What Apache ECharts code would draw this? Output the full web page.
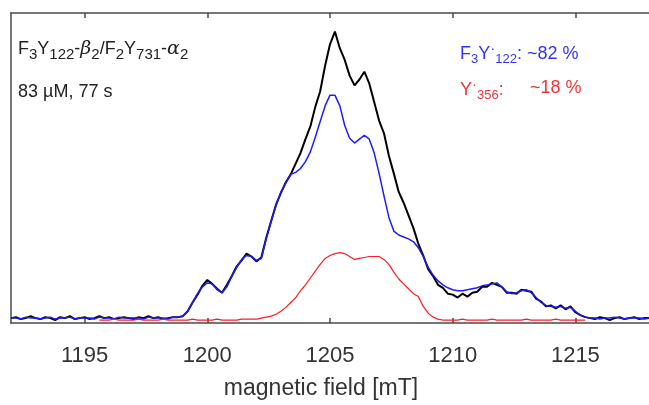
<!DOCTYPE html>
<html><head><meta charset="utf-8">
<script src="https://cdn.jsdelivr.net/npm/echarts@6/dist/echarts.min.js"></script>
<style>html,body{margin:0;padding:0;background:#fff}#c{width:649px;height:405px}</style>
</head><body><div id="c"></div>
<script>
// magnetic field positions (mT)
const field = [1192,1192.2,1192.4,1192.6,1192.8,1193,1193.2,1193.4,1193.6,1193.8,1194,1194.2,1194.4,1194.6,1194.8,1195,1195.2,1195.4,1195.6,1195.8,1196,1196.2,1196.4,1196.6,1196.8,1197,1197.2,1197.4,1197.6,1197.8,1198,1198.2,1198.4,1198.6,1198.8,1199,1199.2,1199.4,1199.6,1199.8,1200,1200.2,1200.4,1200.6,1200.8,1201,1201.2,1201.4,1201.6,1201.8,1202,1202.2,1202.4,1202.6,1202.8,1203,1203.2,1203.4,1203.6,1203.8,1204,1204.2,1204.4,1204.6,1204.8,1205,1205.2,1205.4,1205.6,1205.8,1206,1206.2,1206.4,1206.6,1206.8,1207,1207.2,1207.4,1207.6,1207.8,1208,1208.2,1208.4,1208.6,1208.8,1209,1209.2,1209.4,1209.6,1209.8,1210,1210.2,1210.4,1210.6,1210.8,1211,1211.2,1211.4,1211.6,1211.8,1212,1212.2,1212.4,1212.6,1212.8,1213,1213.2,1213.4,1213.6,1213.8,1214,1214.2,1214.4,1214.6,1214.8,1215,1215.2,1215.4,1215.6,1215.8,1216,1216.2,1216.4,1216.6,1216.8,1217,1217.2,1217.4,1217.6,1217.8,1218];
// measured spectrum (black)
const total = [5,6,4,5,7,5,4,6,5,3,6,5,7,4,5,6,4,5,7,5,6,4,5,6,5,4,6,5,7,5,6,4,5,6,
6,7,12,21,29,38,44,40,35,31,39,48,58,64,71,68,63,67,87,104,121,133,144,152,163,174,188,201,221,237,263,285,298,281,269,253,243,249,257,245,226,207,194,171,153,134,123,110,97,81,69,55,48,39,36,30,29,26,30,27,31,32,37,37,41,39,37,31,31,30,34,33,32,25,22,17,18,15,18,14,17,11,8,6,
5,4,6,5,3,5,6,4,5,6,4,5,5];
// F3Y122 radical component (blue)
const compF3Y = [5,5,4,6,5,5,4,5,6,4,5,5,6,4,5,5,5,4,6,5,5,4,6,5,5,5,5,4,6,5,5,5,4,6,
6,7,12,21,30,37,41,40,34,31,37,48,57,65,69,68,64,66,86,104,120,134,143,152,154,158,165,175,190,206,222,233,233,222,202,189,184,188,192,188,174,153,130,108,94,90,88,86,83,77,68,57,49,43,39,36,34,33,33,34,35,36,38,39,40,41,37,32,30,31,33,34,31,26,21,18,17,16,17,15,16,12,8,6,
5,5,4,5,5,6,5,4,5,5,5,4,5];
// Y356 radical component (red)
const compY356 = [null,null,null,null,null,null,null,null,null,null,null,null,null,null,null,null,null,null,
3,3,3,4,3,3,3,3,4,3,3,3,3,4,3,3,3,3,3,4,3,3,3,3,4,3,3,3,3,4,4,4,
4,5,6,7,9,12,16,21,26,33,39,46,53,60,66,69,71,72,71,68,65,66,67,68,68,68,65,60,52,45,40,35,30,27,17,10,6,4,
3,3,3,3,4,3,3,3,3,3,4,3,3,3,3,3,3,4,3,3,3,3,3,4,3,3,3,3,3,3,
null,null,null,null,null,null,null,null,null,null,null,null,null];
const tickValues = [1195, 1200, 1205, 1210, 1215];
const xTitle = 'magnetic field [mT]';

const chart = echarts.init(document.getElementById('c'));
const pair = ys => field.map((x, i) => [x, ys[i]]);
const axisColor = '#4a4a4a';
const FONT = 'Liberation Sans';
const sub = {fontSize: 13, fontFamily: FONT, padding: [11, 0, 0, 0]};
const subL = {fontSize: 15, fontFamily: FONT, padding: [11, 0, 0, 0]};
const sup = {fontSize: 15, fontFamily: FONT, padding: [0, 0, 11, 0]};
const main = {fontSize: 18, fontFamily: FONT};
chart.setOption({
  animation: false,
  grid: {left: 11, right: -10, top: 13, bottom: 75},
  xAxis: [{
    type: 'value', min: 1192, max: 1218, position: 'bottom',
    axisLine: {show: true, lineStyle: {color: axisColor, width: 1.5}},
    axisTick: {show: true, inside: true, length: 5, customValues: tickValues, lineStyle: {color: axisColor, width: 1.5}},
    axisLabel: {customValues: tickValues, fontSize: 22, color: '#333', margin: 22, fontFamily: FONT, formatter: v => String(v)},
    splitLine: {show: false},
    name: xTitle, nameLocation: 'middle', nameGap: 54,
    nameTextStyle: {fontSize: 23, color: '#333', fontFamily: FONT, padding: [0, 18, 0, 0]}
  }, {
    type: 'value', min: 1192, max: 1218, position: 'top',
    axisLine: {show: true, lineStyle: {color: axisColor, width: 1.5}},
    axisTick: {show: true, inside: true, length: 5, customValues: tickValues, lineStyle: {color: axisColor, width: 1.5}},
    axisLabel: {show: false}, splitLine: {show: false}
  }],
  yAxis: {
    type: 'value', min: 0, max: 317,
    axisLine: {show: true, lineStyle: {color: axisColor, width: 1.5}},
    axisTick: {show: false}, axisLabel: {show: false}, splitLine: {show: false}
  },
  series: [
    {type: 'line', data: pair(total), showSymbol: false, lineStyle: {color: '#000', width: 2}, itemStyle: {color: '#000'}},
    {type: 'line', data: pair(compF3Y), showSymbol: false, lineStyle: {color: '#1c1cff', width: 1.5}, itemStyle: {color: '#1c1cff'}},
    {type: 'line', data: pair(compY356), showSymbol: false, connectNulls: false, lineStyle: {color: '#ff1c1c', width: 1.2}, itemStyle: {color: '#ff1c1c'}}
  ],
  graphic: [
    {type: 'text', left: 18, top: 40, style: {
      text: '{m|F}{s|3}{m|Y}{s|122}{m|-}{g|β}{s|2}{m|/F}{s|2}{m|Y}{s|731}{m|-}{g|α}{s|2}',
      fill: '#222',
      rich: {m: main, s: subL, g: {fontSize: 19, fontFamily: 'DejaVu Serif', fontStyle: 'italic'}}
    }},
    {type: 'text', left: 18, top: 83, style: {text: '83 µM, 77 s', fill: '#222', font: '18px "Liberation Sans"'}},
    {type: 'text', left: 460, top: 41, style: {
      text: '{m|F}{s|3}{m|Y}{p|·}{s|122}{m|: ~82 %}',
      fill: '#3434f0',
      rich: {m: main, s: sub, p: sup}
    }},
    {type: 'text', left: 460, top: 77, style: {
      text: '{m|Y}{p|·}{s|356}{m|:}',
      fill: '#f03434',
      rich: {m: main, s: sub, p: sup}
    }},
    {type: 'text', left: 530, top: 79, style: {text: '~18 %', fill: '#f03434', font: '18px "Liberation Sans"'}}
  ]
});
</script></body></html>
